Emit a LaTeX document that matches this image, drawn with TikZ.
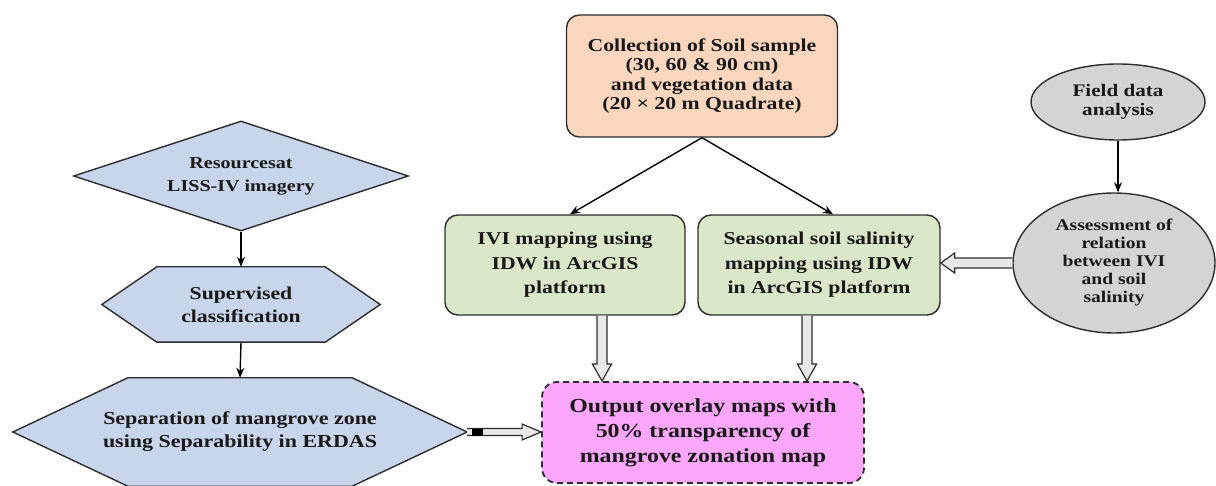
\documentclass[tikz,border=0pt]{standalone}
\usepackage{fontspec}
\setmainfont[FakeStretch=1.2]{Liberation Serif}
\usetikzlibrary{shapes.geometric,arrows.meta,backgrounds,calc}
\definecolor{peach}{RGB}{250,214,190}
\definecolor{sage}{RGB}{216,232,200}
\definecolor{steel}{RGB}{200,213,234}
\definecolor{greyfill}{RGB}{212,212,212}
\definecolor{pinkfill}{RGB}{252,166,252}
\definecolor{edge}{RGB}{45,45,45}
\definecolor{ink}{RGB}{25,25,25}
\definecolor{shaft}{RGB}{232,232,232}
\tikzset{
  rbox/.style={draw=edge, line width=1.4pt, rounded corners=13pt, align=center, text=ink, inner sep=0pt},
  oval/.style={ellipse, draw=edge, line width=1.4pt, fill=greyfill, align=center, text=ink, inner sep=0pt},
  hexbox/.style={align=center, text=ink, inner sep=0pt},
  hexline/.style={draw=edge, line width=1.4pt, fill=steel},
  arr/.style={draw=black, line width=1.4pt, -{Stealth[length=10pt,width=8pt]}},
  blk/.style={draw=edge, line width=1.2pt, fill=shaft, line join=miter},
}
% hollow block arrows (start node anchor, end node anchor)
\newcommand\blkdown[2]{\path[blk] let \p1=(#1), \p2=(#2) in
  (\x1-5pt,\y1) -- (\x1-5pt,\y2+17pt) -- (\x1-9.5pt,\y2+17pt) -- (\x1,\y2)
  -- (\x1+9.5pt,\y2+17pt) -- (\x1+5pt,\y2+17pt) -- (\x1+5pt,\y1);}
\newcommand\blkleft[2]{\path[blk] let \p1=(#1), \p2=(#2) in
  (\x1,\y1+5pt) -- (\x2+14pt,\y1+5pt) -- (\x2+14pt,\y1+10pt) -- (\x2,\y1)
  -- (\x2+14pt,\y1-10pt) -- (\x2+14pt,\y1-5pt) -- (\x1,\y1-5pt);}
\newcommand\blkright[2]{\path[blk] let \p1=(#1), \p2=(#2) in
  (\x1,\y1+3.5pt) -- (\x2-19pt,\y1+3.5pt) -- (\x2-19pt,\y1+8pt) -- (\x2,\y1)
  -- (\x2-19pt,\y1-8pt) -- (\x2-19pt,\y1-3.5pt) -- (\x1,\y1-3.5pt);
  \fill[black] let \p1=(#1) in (\x1+5pt,\y1-3.5pt) rectangle (\x1+16pt,\y1+3.5pt);}
\begin{document}
\begin{tikzpicture}[x=1pt,y=-1pt]
\useasboundingbox (0,0) rectangle (1216,486);
% top centre
\node[rbox, fill=peach, minimum width=271pt, minimum height=122pt,
      font=\fontsize{18.1}{19.5}\selectfont\bfseries] (coll) at (702,76)
  {Collection of Soil sample\\(30, 60 \& 90 cm)\\and vegetation data\\(20 × 20 m Quadrate)};
% green boxes
\node[rbox, fill=sage, minimum width=240pt, minimum height=100pt,
      font=\fontsize{18.1}{24.5}\selectfont\bfseries] (ivi) at (565,265)
  {IVI mapping using\\IDW in ArcGIS\\platform};
\node[rbox, fill=sage, minimum width=242pt, minimum height=100pt,
      font=\fontsize{18.1}{24.5}\selectfont\bfseries] (sea) at (819,265)
  {Seasonal soil salinity\\mapping using IDW\\in ArcGIS platform};
% output
\node[rbox, fill=pinkfill, dash pattern=on 6pt off 4pt, line width=1.8pt, rounded corners=15pt,
      minimum width=322pt, minimum height=101pt,
      font=\fontsize{19.9}{25}\selectfont\bfseries] (out) at (703,432.5)
  {Output overlay maps with\\50\% transparency of\\mangrove zonation map};
% ellipses
\node[oval, minimum width=174pt, minimum height=76pt,
      font=\fontsize{17.6}{18.5}\selectfont\bfseries] (field) at (1118,102)
  {Field data\\analysis};
\node[oval, minimum width=202pt, minimum height=140pt,
      font=\fontsize{16.3}{18}\selectfont\bfseries] (ass) at (1114,263)
  {Assessment of\\relation\\between IVI\\and soil\\salinity};
% left column
\node[diamond, draw=edge, line width=1.4pt, fill=steel, aspect=3, inner sep=0pt,
      minimum width=335pt, minimum height=110pt, align=center, text=ink,
      font=\fontsize{16.7}{23}\selectfont\bfseries] (res) at (241,176)
  {Resourcesat\\LISS-IV imagery};
\node[hexbox, minimum width=278pt, minimum height=75pt,
      font=\fontsize{18.1}{23}\selectfont\bfseries] (sup) at (241,304.5)
  {Supervised\\classification};
\node[hexbox, minimum width=454pt, minimum height=108pt,
      font=\fontsize{18.3}{23}\selectfont\bfseries] (sep) at (240,432)
  {Separation of mangrove zone\\using Separability in ERDAS};
\begin{scope}[on background layer]
  \path[hexline] (sup.west) -- ([xshift=55pt]sup.north west) -- ([xshift=-55pt]sup.north east)
     -- (sup.east) -- ([xshift=-55pt]sup.south east) -- ([xshift=55pt]sup.south west) -- cycle;
  \path[hexline] (sep.west) -- ([xshift=115pt]sep.north west) -- ([xshift=-115pt]sep.north east)
     -- (sep.east) -- ([xshift=-115pt]sep.south east) -- ([xshift=115pt]sep.south west) -- cycle;
\end{scope}
% connectors
\draw[arr] (coll.south) -- ([xshift=5pt]ivi.north);
\draw[arr] (coll.south) -- ([xshift=14pt]sea.north);
\draw[arr] (field.south) -- (field.south |- ass.north);
\draw[arr] (res.south) -- (sup.north);
\draw[arr] (sup.south) -- (sep.north);
\blkleft{ass.west}{sea.east}
\blkdown{$(ivi.south)+(37,0)$}{out.north}
\blkdown{$(sea.south)+(-12,0)$}{out.north}
\blkright{sep.east}{out.west}
\end{tikzpicture}
\end{document}
